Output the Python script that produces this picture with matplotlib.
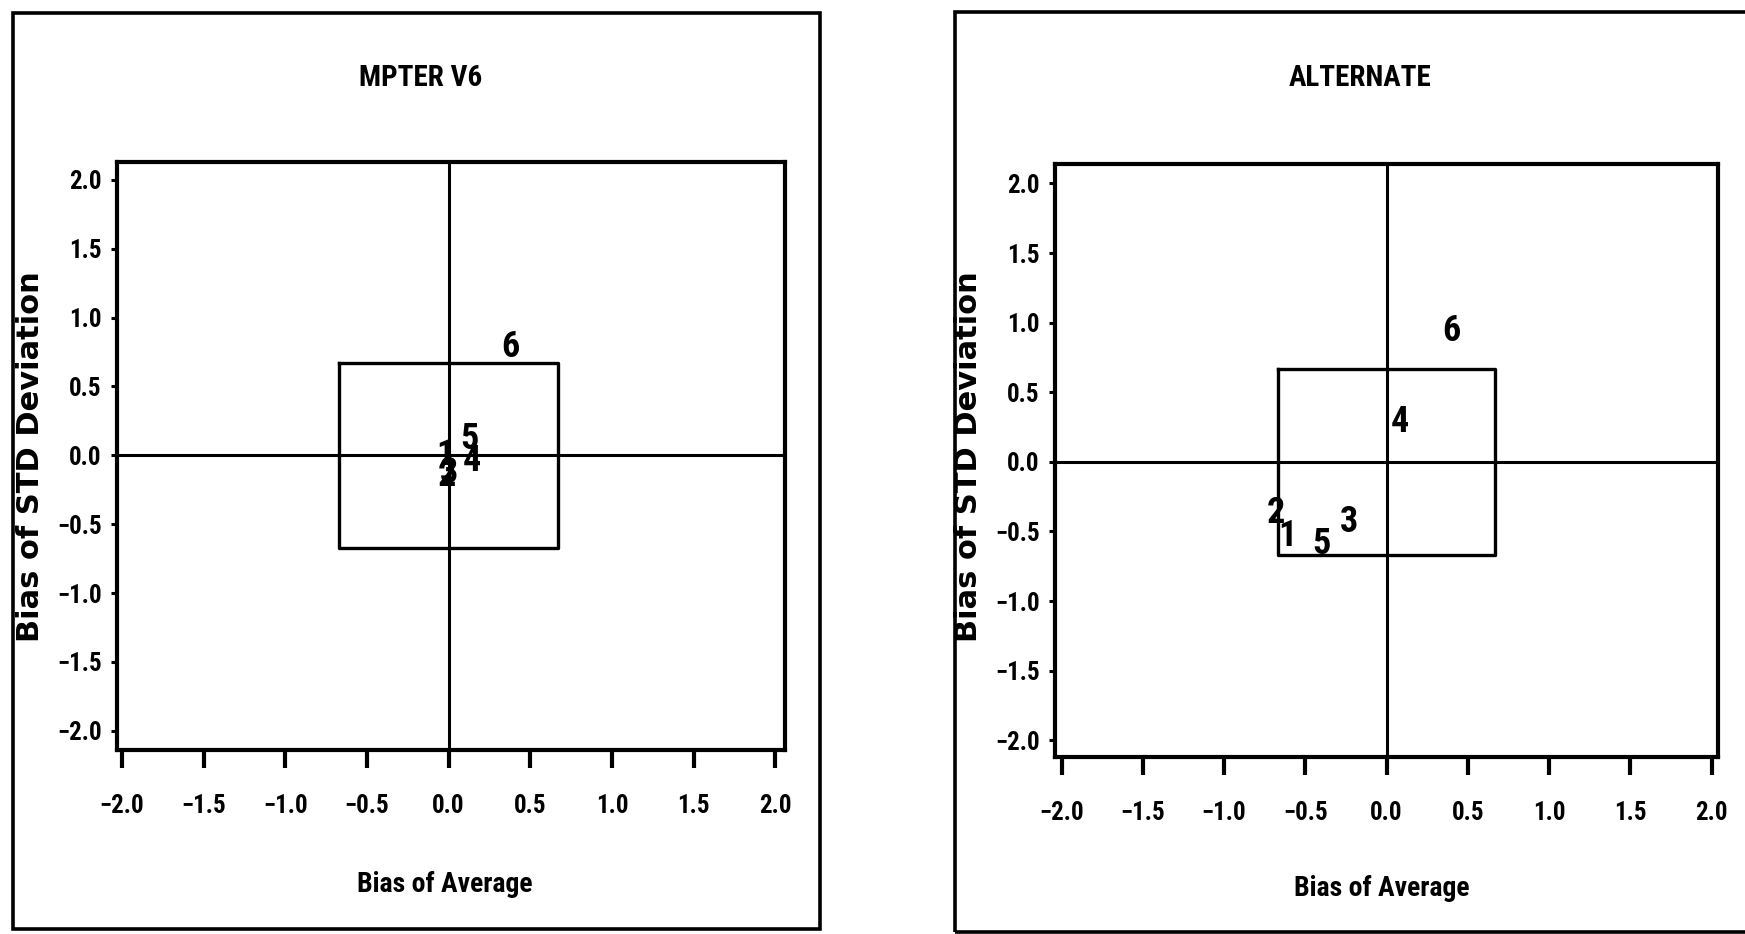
import matplotlib
matplotlib.use("Agg")
import matplotlib.pyplot as plt
from matplotlib.patches import Rectangle
from matplotlib import font_manager

# ---------------- data ----------------
titles = ["MPTER V6", "ALTERNATE"]
point_labels = ["1", "2", "3", "4", "5", "6"]
mpter_x = [-0.02, -0.01, 0.00, 0.14, 0.13, 0.38]
mpter_y = [0.00, -0.15, -0.13, -0.04, 0.12, 0.79]
alt_x = [-0.61, -0.68, -0.23, 0.08, -0.40, 0.40]
alt_y = [-0.53, -0.37, -0.43, 0.29, -0.59, 0.94]
box_half = 0.67
tick_values = [-2.0, -1.5, -1.0, -0.5, 0.0, 0.5, 1.0, 1.5, 2.0]
tick_labels = ["\u22122.0", "\u22121.5", "\u22121.0", "\u22120.5", "0.0", "0.5", "1.0", "1.5", "2.0"]
xlabel = "Bias of Average"
ylabel = "Bias of STD Deviation"

names = {f.name for f in font_manager.fontManager.ttflist}
candidates = ["Liberation Sans Narrow", "Roboto Condensed", "Open Sans Condensed",
              "Liberation Sans", "DejaVu Sans"]
narrow = next(c for c in candidates if c in names)
narrow_fam = [narrow, "DejaVu Sans"]

W, H = 1745, 934
fig = plt.figure(figsize=(W / 100, H / 100), dpi=100)
fig.patch.set_facecolor("white")

def fx(px):
    return px / W

def fy(py):
    return 1 - py / H

# outer frames
fig.patches.append(Rectangle((fx(13), fy(929)), fx(820) - fx(13), fy(13) - fy(929),
                             transform=fig.transFigure, fill=False, lw=2.6, ec="black"))
fig.patches.append(Rectangle((fx(955), fy(932)), fx(1770) - fx(955), fy(12) - fy(932),
                             transform=fig.transFigure, fill=False, lw=2.6, ec="black",
                             clip_on=False))

panels = [
    dict(rect=(117, 162, 785, 750), xlim=(-2.03, 2.06), ylim=(-2.14, 2.13),
         xs=mpter_x, ys=mpter_y, title=titles[0], title_xy=(421, 78),
         xlabel_xy=(445, 884), ylabel_xy=(31, 457)),
    dict(rect=(1055, 164, 1718, 757), xlim=(-2.04, 2.04), ylim=(-2.12, 2.14),
         xs=alt_x, ys=alt_y, title=titles[1], title_xy=(1360, 78),
         xlabel_xy=(1382, 889), ylabel_xy=(968, 457)),
]

for p in panels:
    l, t, r, b = p["rect"]
    ax = fig.add_axes([fx(l), fy(b), fx(r) - fx(l), fy(t) - fy(b)])
    ax.set_xlim(*p["xlim"])
    ax.set_ylim(*p["ylim"])
    for s in ax.spines.values():
        s.set_linewidth(3.0)
    ax.set_xticks(tick_values)
    ax.set_xticklabels(tick_labels)
    ax.set_yticks(tick_values)
    ax.set_yticklabels(tick_labels)
    ax.tick_params(axis="x", direction="out", length=13, width=3.0, pad=19)
    ax.tick_params(axis="y", direction="out", length=4, width=2.2, pad=7)
    for lab in ax.get_xticklabels() + ax.get_yticklabels():
        lab.set_family(narrow_fam)
        lab.set_fontweight("bold")
        lab.set_fontsize(18)
    ax.axhline(0, color="black", lw=2.2)
    ax.axvline(0, color="black", lw=2.2)
    ax.plot([-box_half, box_half, box_half, -box_half, -box_half],
            [box_half, box_half, -box_half, -box_half, box_half],
            color="black", lw=2.4)
    for lbl, x, y in zip(point_labels, p["xs"], p["ys"]):
        ax.text(x, y, lbl, ha="center", va="center", family=narrow_fam,
                fontweight="bold", fontsize=26)
    fig.text(fx(p["title_xy"][0]), fy(p["title_xy"][1]), p["title"], ha="center",
             va="center", family=narrow_fam, fontweight="bold", fontsize=21)
    fig.text(fx(p["xlabel_xy"][0]), fy(p["xlabel_xy"][1]), xlabel, ha="center",
             va="center", family=narrow_fam, fontweight="bold", fontsize=20)
    fig.text(fx(p["ylabel_xy"][0]), fy(p["ylabel_xy"][1]), ylabel, ha="center",
             va="center", rotation=90, family=["DejaVu Sans"], fontweight="bold",
             fontsize=22)

fig.savefig("out.png", dpi=100, facecolor="white")
